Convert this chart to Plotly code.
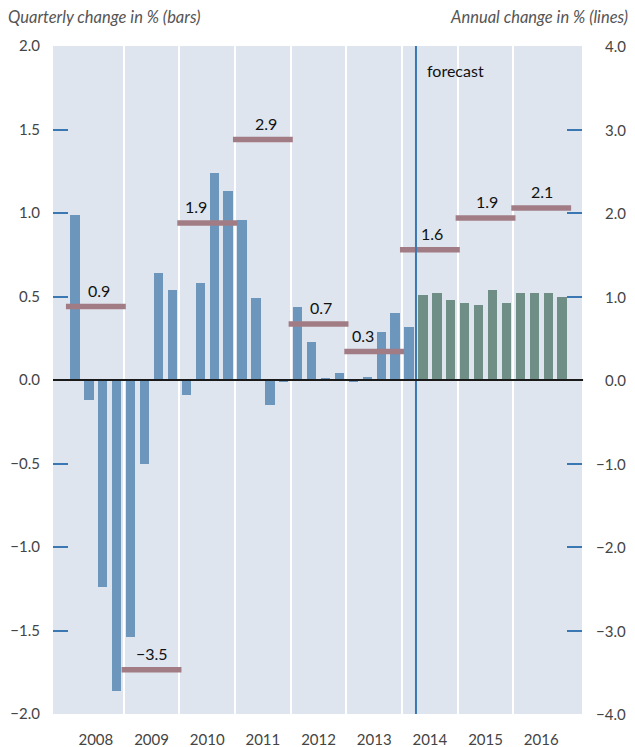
import plotly.graph_objects as go

# ---------------- data ----------------
years = [2008, 2009, 2010, 2011, 2012, 2013, 2014, 2015, 2016]
quarterly_change = [
    0.99, -0.12, -1.24, -1.86,
    -1.54, -0.50, 0.64, 0.54,
    -0.09, 0.58, 1.24, 1.13,
    0.96, 0.49, -0.15, -0.01,
    0.44, 0.23, 0.01, 0.04,
    -0.01, 0.02, 0.29, 0.40,
    0.32, 0.51, 0.52, 0.48,
    0.46, 0.45, 0.54, 0.46,
    0.52, 0.52, 0.52, 0.50,
]
n_actual = 25  # quarters up to 2014 Q1 are actual, the rest forecast
annual_change = [0.88, -3.47, 1.88, 2.88, 0.67, 0.34, 1.56, 1.94, 2.06]
left_ticks = [-2.0, -1.5, -1.0, -0.5, 0.0, 0.5, 1.0, 1.5, 2.0]
right_ticks = [-4.0, -3.0, -2.0, -1.0, 0.0, 1.0, 2.0, 3.0, 4.0]

# ---------------- styles ----------------
FONT = "Lato"
BLUE_BAR = "#6d96bd"
GREEN_BAR = "#6f8f86"
LINE_COL = "#a27c85"
AXIS_BLUE = "#3a78b4"
BG = "#dee5ee"
TXT = "#444444"
label_xshift = [3, 0, -11, 3, 2, -11, 2, 1, 1]

def fmt(v):
    s = f"{v:.1f}"
    return s.replace("-", "\u2212")

q_idx = list(range(len(quarterly_change)))

fig = go.Figure()
fig.add_trace(go.Bar(
    x=q_idx[:n_actual], y=quarterly_change[:n_actual],
    marker=dict(color=BLUE_BAR, line=dict(width=0)), width=0.67,
    name="Quarterly (actual)", showlegend=False, hoverinfo="x+y"))
fig.add_trace(go.Bar(
    x=q_idx[n_actual:], y=quarterly_change[n_actual:],
    marker=dict(color=GREEN_BAR, line=dict(width=0)), width=0.67,
    name="Quarterly (forecast)", showlegend=False, hoverinfo="x+y"))

# annual lines (one segment per year)
lx, ly = [], []
for i, v in enumerate(annual_change):
    lx += [4 * i - 0.65, 4 * i + 3.65, None]
    ly += [v, v, None]
fig.add_trace(go.Scatter(
    x=lx, y=ly, yaxis="y2", mode="lines",
    line=dict(color=LINE_COL, width=5.5), showlegend=False,
    name="Annual change"))

annotations = []
for i, v in enumerate(annual_change):
    annotations.append(dict(
        x=4 * i + 1.5, y=v, xref="x", yref="y2", text=fmt(v),
        showarrow=False, yshift=16.5, xshift=label_xshift[i],
        xanchor="center", yanchor="middle",
        font=dict(family=FONT, size=16, color="#111111")))

for v in right_ticks:
    annotations.append(dict(
        x=1, xref="paper", y=v, yref="y2", text=fmt(v), xanchor="right",
        yanchor="middle", xshift=46, showarrow=False,
        font=dict(family=FONT, size=15, color=TXT)))

annotations.append(dict(
    x=n_actual - 0.5, xref="x", y=0.964, yref="paper", text="forecast",
    xanchor="left", yanchor="middle", xshift=9, showarrow=False,
    font=dict(family=FONT, size=16, color="#111111")))
annotations.append(dict(
    x=0, xref="paper", xshift=-47, y=1, yref="paper", yshift=29,
    text="<i>Quarterly change in % (bars)</i>", xanchor="left", yanchor="middle",
    showarrow=False, font=dict(family=FONT, size=16.5, color="#555555")))
annotations.append(dict(
    x=1, xref="paper", xshift=48, y=1, yref="paper", yshift=29,
    text="<i>Annual change in % (lines)</i>", xanchor="right", yanchor="middle",
    showarrow=False, font=dict(family=FONT, size=16.5, color="#555555")))

shapes = [
    dict(type="line", xref="x", yref="paper", x0=n_actual - 0.5, x1=n_actual - 0.5,
         y0=0, y1=1, line=dict(color=AXIS_BLUE, width=2), layer="above"),
    dict(type="line", xref="paper", yref="y", x0=0, x1=1.002, y0=0, y1=0,
         line=dict(color="#1a1a1a", width=2), layer="above"),
]

fig.update_layout(
    width=635, height=747,
    margin=dict(l=53, r=53, t=46, b=33),
    paper_bgcolor="white", plot_bgcolor=BG,
    bargap=0, showlegend=False,
    font=dict(family=FONT, size=15, color=TXT),
    xaxis=dict(
        range=[-1.58, 36.43], tickmode="array",
        tickvals=[4 * i + 1.5 for i in range(len(years))],
        ticktext=[str(y) for y in years],
        ticks="", showgrid=False, zeroline=False, showline=False,
        ticklabelstandoff=15, automargin=False,
        minor=dict(tickvals=[4 * i + 3.5 for i in range(len(years) - 1)],
                   showgrid=True, gridcolor="white", gridwidth=1.6, ticks=""),
        tickfont=dict(family=FONT, size=15, color=TXT),
    ),
    yaxis=dict(
        range=[-2.0, 2.0], tickmode="array", tickvals=left_ticks,
        ticktext=[fmt(v) for v in left_ticks],
        ticks="inside", ticklen=15, tickwidth=2, tickcolor=AXIS_BLUE,
        showgrid=False, zeroline=False, showline=False,
        ticklabelstandoff=12, automargin=False,
        tickfont=dict(family=FONT, size=15, color=TXT),
    ),
    yaxis2=dict(
        range=[-4.0, 4.0], overlaying="y", side="right",
        tickmode="array", tickvals=right_ticks,
        ticks="inside", ticklen=15, tickwidth=2, tickcolor=AXIS_BLUE,
        showticklabels=False, showgrid=False, zeroline=False, showline=False,
        automargin=False,
    ),
    annotations=annotations,
    shapes=shapes,
)

fig.write_html(
    "out.html",
    config={"displayModeBar": False},
    post_script="document.body.style.margin='0';document.body.style.overflow='hidden';",
)
